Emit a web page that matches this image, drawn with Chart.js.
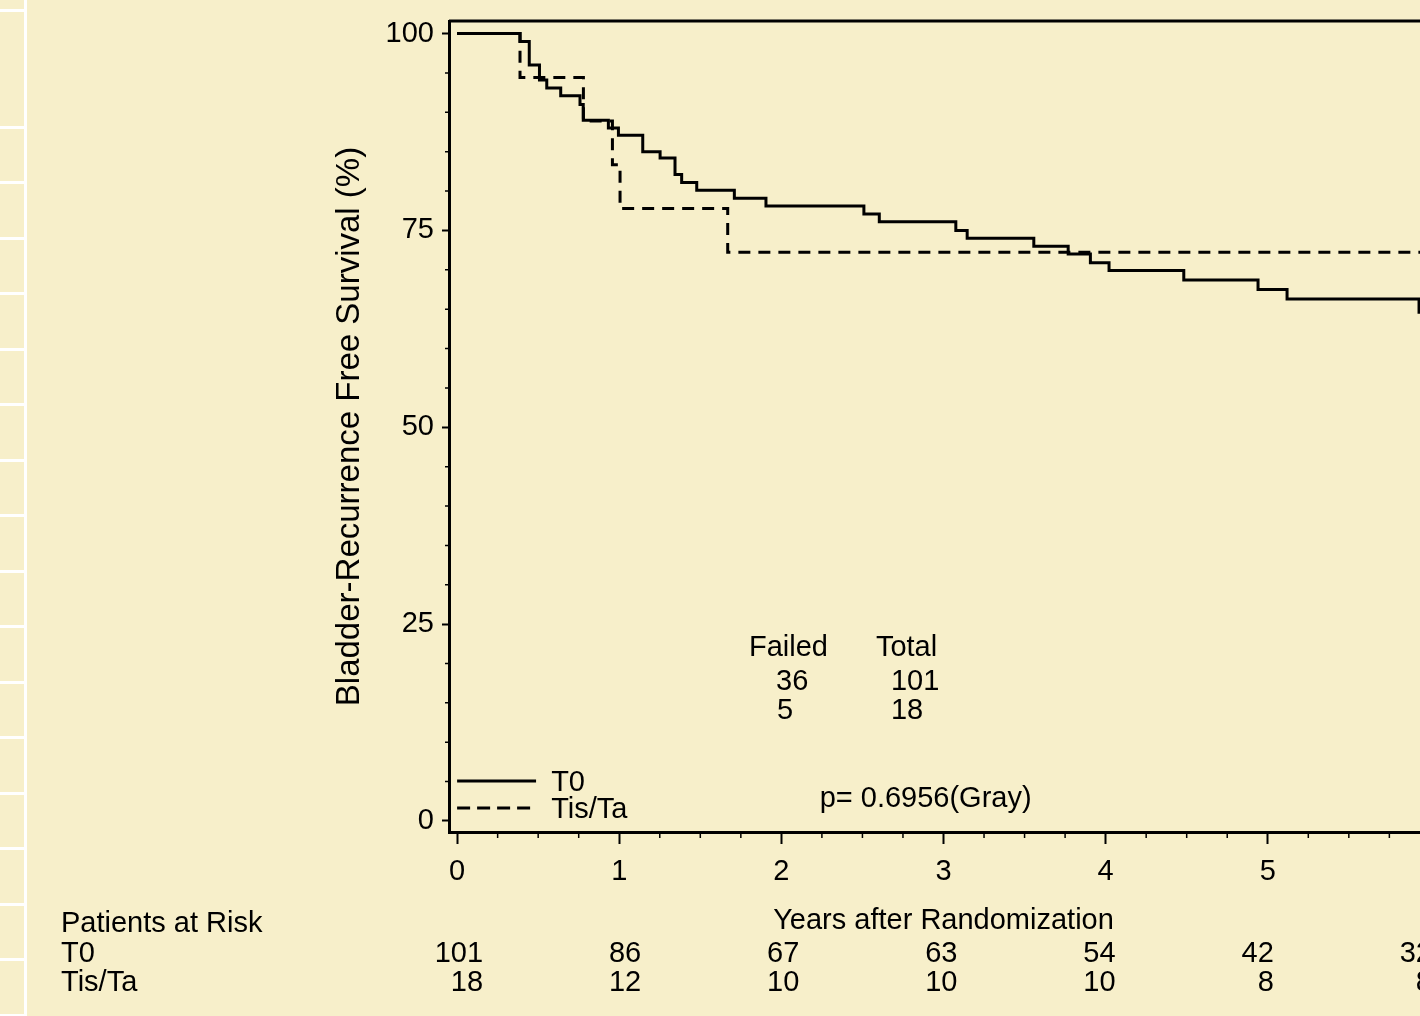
<!DOCTYPE html>
<html>
<head>
<meta charset="utf-8">
<script src="https://cdn.jsdelivr.net/npm/chart.js@4.4.1/dist/chart.umd.min.js"></script>
<style>
html, body { margin: 0; padding: 0; overflow: hidden; background: rgb(247,239,202); }
canvas { display: block; }
</style>
</head>
<body>
<canvas id="c" width="1470" height="1016"></canvas>
<script>
// ---- data ----
const t0Times     = [0, 0.388, 0.445, 0.508, 0.553, 0.639, 0.758, 0.778, 0.933, 0.995, 1.145, 1.252, 1.344, 1.385, 1.478, 1.710, 1.905, 2.509, 2.604, 3.076, 3.146, 3.557, 3.769, 3.906, 4.021, 4.482, 4.940, 5.119, 5.933, 6.05];
const t0Survival  = [100, 99.0, 96.0, 94.1, 93.1, 92.1, 91.0, 89.0, 88.0, 87.1, 85.0, 84.2, 82.1, 81.1, 80.1, 79.1, 78.1, 77.1, 76.1, 75.0, 74.0, 73.0, 72.0, 70.9, 69.9, 68.7, 67.5, 66.3, 64.6, 64.6];
const tisTimes    = [0, 0.388, 0.779, 0.958, 1.005, 1.669, 6.05];
const tisSurvival = [100, 94.44, 88.89, 83.33, 77.78, 72.22, 72.22];

const seriesNames = ['T0', 'Tis/Ta'];
const xTickValues = [0, 1, 2, 3, 4, 5, 6];
const yTickValues = [0, 25, 50, 75, 100];
const atRiskT0    = [101, 86, 67, 63, 54, 42, 32];
const atRiskTis   = [18, 12, 10, 10, 10, 8, 8];
const failedCounts = [36, 5];
const totalCounts  = [101, 18];
const pValueText   = 'p= 0.6956(Gray)';
const xTitle = 'Years after Randomization';
const yTitle = 'Bladder-Recurrence Free Survival (%)';
const atRiskTitle = 'Patients at Risk';

// ---- styling ----
const BG = 'rgb(247,239,202)';
const FONT = '"Liberation Sans", Arial, sans-serif';
const FS = 29;
Chart.defaults.font.family = FONT;
Chart.defaults.font.size = FS;
Chart.defaults.color = '#000';

const decor = {
  id: 'decor',
  beforeDraw(chart) {
    const ctx = chart.ctx;
    ctx.save();
    ctx.fillStyle = BG;
    ctx.fillRect(0, 0, chart.width, chart.height);
    ctx.fillStyle = '#ffffff';
    ctx.fillRect(24, 0, 3, chart.height);
    const ys = [10];
    for (let yy = 127; yy < chart.height + 2; yy += 55.5) ys.push(yy);
    ys.forEach(yy => ctx.fillRect(0, Math.round(yy - 1.5), 24, 3));
    ctx.restore();
  },
  afterDraw(chart) {
    const { ctx, chartArea: a, scales: { x, y } } = chart;
    ctx.save();
    ctx.strokeStyle = '#000';
    // top and right frame
    ctx.lineWidth = 3;
    ctx.beginPath();
    ctx.moveTo(a.left, a.top); ctx.lineTo(a.right, a.top); ctx.lineTo(a.right, a.bottom);
    ctx.stroke();
    // minor ticks
    ctx.lineWidth = 1.5;
    ctx.beginPath();
    for (let i = 0; i <= 24; i++) {
      if (i % 4 === 0) continue;
      const px = x.getPixelForValue(i / 4);
      ctx.moveTo(px, a.bottom); ctx.lineTo(px, a.bottom + 6);
    }
    for (let v = 0; v <= 100; v += 5) {
      if (v % 25 === 0) continue;
      const py = y.getPixelForValue(v);
      ctx.moveTo(a.left - 4, py); ctx.lineTo(a.left, py);
    }
    ctx.stroke();

    // legend inside the plot
    ctx.lineWidth = 3;
    const lx0 = x.getPixelForValue(0), lx1 = x.getPixelForValue(0.487);
    ctx.beginPath();
    ctx.moveTo(lx0, y.getPixelForValue(5.08)); ctx.lineTo(lx1, y.getPixelForValue(5.08));
    ctx.stroke();
    ctx.setLineDash([13, 7]);
    ctx.beginPath();
    ctx.moveTo(lx0, y.getPixelForValue(1.65)); ctx.lineTo(lx1, y.getPixelForValue(1.65));
    ctx.stroke();
    ctx.setLineDash([]);

    ctx.fillStyle = '#000';
    ctx.font = FS + 'px ' + FONT;
    ctx.textBaseline = 'middle';
    ctx.textAlign = 'left';
    ctx.fillText(seriesNames[0], x.getPixelForValue(0.58), y.getPixelForValue(4.83));
    ctx.fillText(seriesNames[1], x.getPixelForValue(0.58), y.getPixelForValue(1.40));

    // failed / total table
    ctx.fillText('Failed', x.getPixelForValue(1.80), y.getPixelForValue(21.97));
    ctx.fillText('Total', x.getPixelForValue(2.583), y.getPixelForValue(21.97));
    ctx.fillText(String(failedCounts[0]), x.getPixelForValue(1.967), y.getPixelForValue(17.65));
    ctx.fillText(String(totalCounts[0]), x.getPixelForValue(2.676), y.getPixelForValue(17.65));
    ctx.fillText(String(failedCounts[1]), x.getPixelForValue(1.973), y.getPixelForValue(13.97));
    ctx.fillText(String(totalCounts[1]), x.getPixelForValue(2.676), y.getPixelForValue(13.97));
    ctx.fillText(pValueText, x.getPixelForValue(2.236), y.getPixelForValue(2.73));

    // patients at risk
    ctx.textBaseline = 'alphabetic';
    const b0 = a.bottom + 100, b1 = a.bottom + 130, b2 = a.bottom + 159;
    ctx.fillText(atRiskTitle, 61, b0);
    ctx.fillText(seriesNames[0], 61, b1);
    ctx.fillText(seriesNames[1], 61, b2);
    ctx.textAlign = 'right';
    xTickValues.forEach((v, i) => {
      const rx = x.getPixelForValue(v) + 26 - 4 * i;
      ctx.fillText(String(atRiskT0[i]), rx, b1);
      ctx.fillText(String(atRiskTis[i]), rx, b2);
    });
    ctx.restore();
  }
};

new Chart(document.getElementById('c'), {
  type: 'line',
  data: {
    datasets: [
      {
        label: seriesNames[0],
        data: t0Times.map((t, i) => ({ x: t, y: t0Survival[i] })),
        stepped: 'before',
        borderColor: '#000',
        borderWidth: 3,
        pointRadius: 0,
        fill: false
      },
      {
        label: seriesNames[1],
        data: tisTimes.map((t, i) => ({ x: t, y: tisSurvival[i] })),
        stepped: 'before',
        borderColor: '#000',
        borderWidth: 3,
        borderDash: [12, 8],
        pointRadius: 0,
        fill: false
      }
    ]
  },
  options: {
    responsive: false,
    animation: false,
    devicePixelRatio: 1,
    layout: { padding: { left: 0, top: 21, right: 32, bottom: 76 } },
    plugins: { legend: { display: false }, tooltip: { enabled: false } },
    scales: {
      x: {
        type: 'linear',
        min: -0.05,
        max: 6.05,
        afterBuildTicks: s => { s.ticks = xTickValues.map(v => ({ value: v })); },
        afterFit: s => { s.height = 108; s.paddingLeft = 0; s.paddingRight = 0; },
        ticks: { padding: 11, color: '#000', font: { size: FS }, maxRotation: 0, autoSkip: false },
        grid: { drawOnChartArea: false, drawTicks: true, tickLength: 12, tickColor: '#000', tickWidth: 2 },
        border: { display: true, color: '#000', width: 3 },
        title: { display: true, text: xTitle, color: '#000', font: { size: FS }, padding: { top: 0, bottom: 1.6 } }
      },
      y: {
        type: 'linear',
        min: -1.4,
        max: 101.6,
        afterBuildTicks: s => { s.ticks = yTickValues.map(v => ({ value: v })); },
        afterFit: s => { s.width = 449; s.paddingTop = 0; s.paddingBottom = 0; },
        ticks: { padding: 8, color: '#000', font: { size: FS }, autoSkip: false },
        grid: { drawOnChartArea: false, drawTicks: true, tickLength: 7, tickColor: '#000', tickWidth: 2 },
        border: { display: true, color: '#000', width: 3 },
        title: { display: true, text: yTitle, color: '#000', font: { size: 33 }, padding: { top: 330, bottom: 0 } }
      }
    }
  },
  plugins: [decor]
});
</script>
</body>
</html>
